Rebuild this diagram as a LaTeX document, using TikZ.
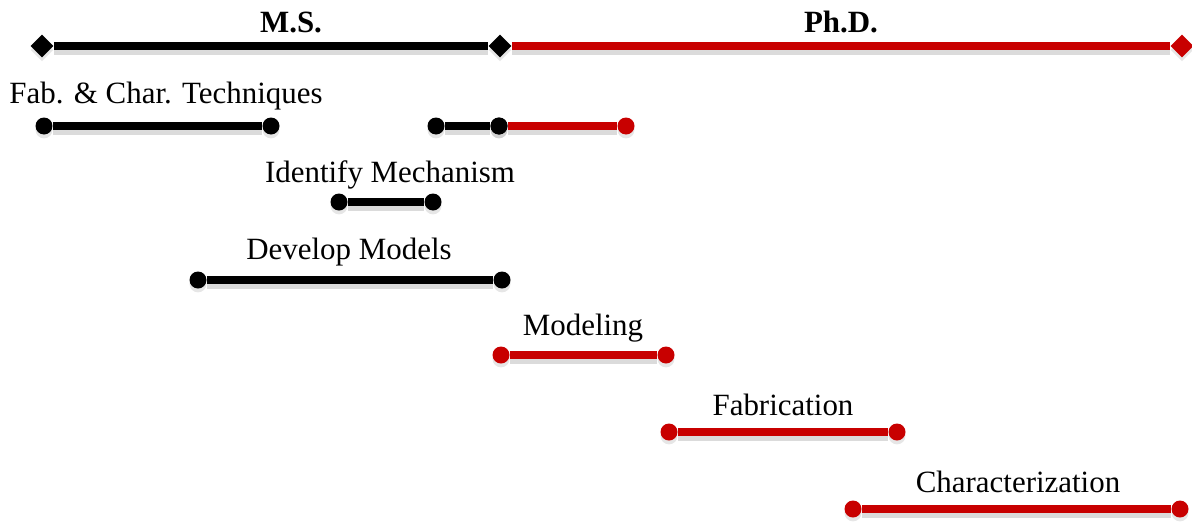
\documentclass[tikz,border=0pt]{standalone}
\usepackage{fontspec}
\setmainfont{Liberation Serif}
\usepackage{xcolor}
\usetikzlibrary{shapes.geometric,shadows,positioning}
\definecolor{phdred}{RGB}{200,0,0}

\tikzset{
    bar/.style={line width=4.4pt, preaction={draw=black!14, line width=5.6pt, transform canvas={yshift=-2.2pt}}},
    dot/.style={circle, fill, inner sep=0pt, minimum size=0.34cm, drop shadow={opacity=0.2, shadow xshift=0pt, shadow yshift=-2.2pt}},
    tip/.style={diamond, fill, inner sep=0pt, minimum size=0.46cm, drop shadow={opacity=0.2, shadow xshift=0pt, shadow yshift=-2.2pt}},
    task/.style={font=\fontsize{17.6}{20}\selectfont},
    phase/.style={font=\fontsize{17.6}{20}\selectfont\bfseries}
}

\begin{document}
\begin{tikzpicture}[x=0.02cm, y=-0.02cm]
    \useasboundingbox (0,0) rectangle (1192,521);

    % Degree timeline
    \node[tip] (ms0) at (42,46) {};
    \node[tip] (ms1) at (500,46) {};
    \node[tip, phdred] (phd1) at (1182,46) {};
    \draw[bar] (ms0) -- (ms1);
    \draw[bar, phdred] (ms1) -- (phd1);
    \node[phase] (ms) at (291,22) {M.S.};
    \node[phase] (phd) at (841,22) {Ph.D.};

    % Fab. & Char. Techniques
    \node[dot] (fc0) at (44,126) {};
    \node[dot] (fc1) at (271,126) {};
    \draw[bar] (fc0) -- (fc1);
    \node[dot] (fc2) at (436,126) {};
    \node[dot] (fc3) at (499,126) {};
    \node[dot, phdred] (fc4) at (626,126) {};
    \draw[bar, phdred] (fc3) -- (fc4);
    \draw[bar] (fc2) -- (fc3);
    \node[dot] at (fc3) {};
    \node[task] (fc) at (166,96) {Fab. \& Char. Techniques};

    % Identify Mechanism
    \node[dot] (im0) at (339,202) {};
    \node[dot] (im1) at (433,202) {};
    \draw[bar] (im0) -- (im1);
    \node[task] (im) at (390,175) {Identify Mechanism};

    % Develop Models
    \node[dot] (dm0) at (198,280) {};
    \node[dot] (dm1) at (502,280) {};
    \draw[bar] (dm0) -- (dm1);
    \node[task] (dm) at (349,252) {Develop Models};

    % Modeling
    \node[dot, phdred] (mo0) at (501,355) {};
    \node[dot, phdred] (mo1) at (666,355) {};
    \draw[bar, phdred] (mo0) -- (mo1);
    \node[task] (mo) at (583,328) {Modeling};

    % Fabrication
    \node[dot, phdred] (fa0) at (669,432) {};
    \node[dot, phdred] (fa1) at (897,432) {};
    \draw[bar, phdred] (fa0) -- (fa1);
    \node[task] (fa) at (783,405) {Fabrication};

    % Characterization
    \node[dot, phdred] (ch0) at (853,509) {};
    \node[dot, phdred] (ch1) at (1180,509) {};
    \draw[bar, phdred] (ch0) -- (ch1);
    \node[task] (ch) at (1018,482) {Characterization};
\end{tikzpicture}
\end{document}
